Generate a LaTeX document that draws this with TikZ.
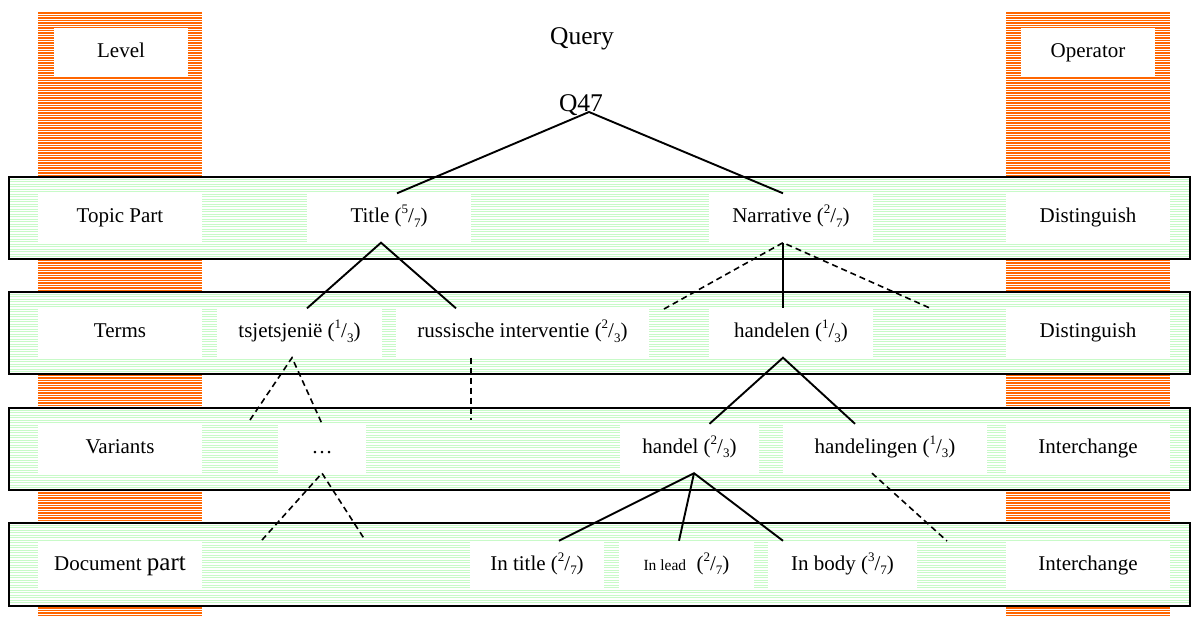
\documentclass[tikz,border=0pt]{standalone}
\usepackage{fontspec}
\setmainfont{Liberation Serif}
\usepackage{tikz}
\usetikzlibrary{calc}

\definecolor{stripeorange}{RGB}{255,102,0}
\definecolor{stripegreen}{RGB}{200,250,200}

% fraction as printed: (^a/_b)
\newcommand{\share}[2]{(\raisebox{0.42em}{\fontsize{13}{13}\selectfont #1}/\raisebox{-0.22em}{\fontsize{13}{13}\selectfont #2})}

\begin{document}
\begin{tikzpicture}[x=1pt, y=-1pt,
    every node/.style={font=\fontsize{21}{25}\selectfont, text height=14.7, text depth=5.2},
    cell/.style={fill=white, inner sep=0pt, minimum width=164, minimum height=49},
    orangeline/.style={stripeorange, line width=1.1},
    greenline/.style={stripegreen, line width=0.9},
    bandframe/.style={draw=black, line width=1.8},
    branch/.style={black, line width=1.9},
    maybe/.style={black, line width=1.6, dash pattern=on 6pt off 4pt}]
  \useasboundingbox (0,0) rectangle (1196,617);

  % operator and level columns
  \foreach \x in {38,1006}
    \foreach \k in {0,...,241}
      \draw[orangeline] (\x,13+2.5*\k) -- ++(164,0);

  \node[cell, minimum width=134] (level) at (121,52.5) {Level};
  \node[cell, minimum width=134] (operator) at (1088,52.5) {Operator};

  % bands
  \foreach \t/\b in {177/259, 292/374, 408/490, 523/606} {
    \fill[white] (9,\t) rectangle (1190,\b);
    \foreach \k in {0,...,31}
      \draw[greenline] (9,\t+2+2.5*\k) -- (1190,\t+2+2.5*\k);
    \draw[bandframe] (9,\t) rectangle (1190,\b);
  }

  \node[anchor=base, font=\fontsize{25.5}{30}\selectfont] (query) at (582,45) {Query};
  \node[anchor=base, font=\fontsize{25.5}{30}\selectfont] (q47) at (581,112) {Q47};

  % topic part
  \node[cell] (topic) at (120,218) {Topic Part};
  \node[cell] (title) at (389,218) {Title \share{5}{7}};
  \node[cell] (narr) at (791,218) {Narrative \share{2}{7}};
  \node[cell] (dist1) at (1088,218) {Distinguish};

  % terms
  \node[cell] (terms) at (120,333) {Terms};
  \node[cell, minimum width=165] (tsjet) at (299.5,333) {tsjetsjenië \share{1}{3}};
  \node[cell, minimum width=253] (russ) at (522.5,333) {russische interventie \share{2}{3}};
  \node[cell] (handelen) at (791,333) {handelen \share{1}{3}};
  \node[cell] (dist2) at (1088,333) {Distinguish};

  % variants
  \node[cell] (variants) at (120,448.5) {Variants};
  \node[cell, minimum width=88] (dots) at (322,448.5) {\ldots};
  \node[cell, minimum width=139] (handel) at (689.5,448.5) {handel \share{2}{3}};
  \node[cell, minimum width=204] (handelingen) at (885,448.5) {handelingen \share{1}{3}};
  \node[cell] (inter1) at (1088,448.5) {Interchange};

  % document part
  \node[cell] (docpart) at (120,565.5) {Document {\fontsize{25}{30}\selectfont part}};
  \node[cell, minimum width=134] (intitle) at (537,565.5) {In title \share{2}{7}};
  \node[cell, minimum width=135] (inlead) at (686.5,565.5) {{\fontsize{15.5}{18}\selectfont In lead}\ \ \share{2}{7}};
  \node[cell, minimum width=149] (inbody) at (842.5,565.5) {In body \share{3}{7}};
  \node[cell] (inter2) at (1088,565.5) {Interchange};

  % loose ends of the dashed branches
  \coordinate (narrL) at (664,309);
  \coordinate (narrR) at (932,309);
  \coordinate (tsjetL) at (250,420);
  \coordinate (russE) at (471,420);
  \coordinate (dotsL) at (262,540);
  \coordinate (dotsR) at (365,540);
  \coordinate (hlgE) at (947,541);

  \draw[branch] ($(title.north)+(8,0)$) -- ($(q47.base)+(8,0)$) -- ($(narr.north)+(-8,0)$);
  \draw[branch] ($(tsjet.north)+(7.5,0)$) -- ($(title.south)+(-8,0)$) -- ($(russ.north)+(-66.5,0)$);
  \draw[branch] ($(narr.south)+(-8,0)$) -- ($(handelen.north)+(-8,0)$);
  \draw[maybe] (narrL) -- ($(narr.south)+(-8,0)$) -- (narrR);
  \draw[maybe] (tsjetL) -- ($(tsjet.south)+(-7.5,0)$) -- (dots.north);
  \draw[maybe] ($(russ.south)+(-51.5,0)$) -- (russE);
  \draw[branch] ($(handel.north)+(20,0)$) -- ($(handelen.south)+(-8,0)$) -- ($(handelingen.north)+(-30,0)$);
  \draw[maybe] (dotsL) -- (dots.south) -- (dotsR);
  \draw[branch] ($(intitle.north)+(22,0)$) -- ($(handel.south)+(4.5,0)$) -- ($(inbody.north)+(-59.5,0)$);
  \draw[branch] ($(handel.south)+(4.5,0)$) -- ($(inlead.north)+(-7.5,0)$);
  \draw[maybe] ($(handelingen.south)+(-13,0)$) -- (hlgE);
\end{tikzpicture}
\end{document}
